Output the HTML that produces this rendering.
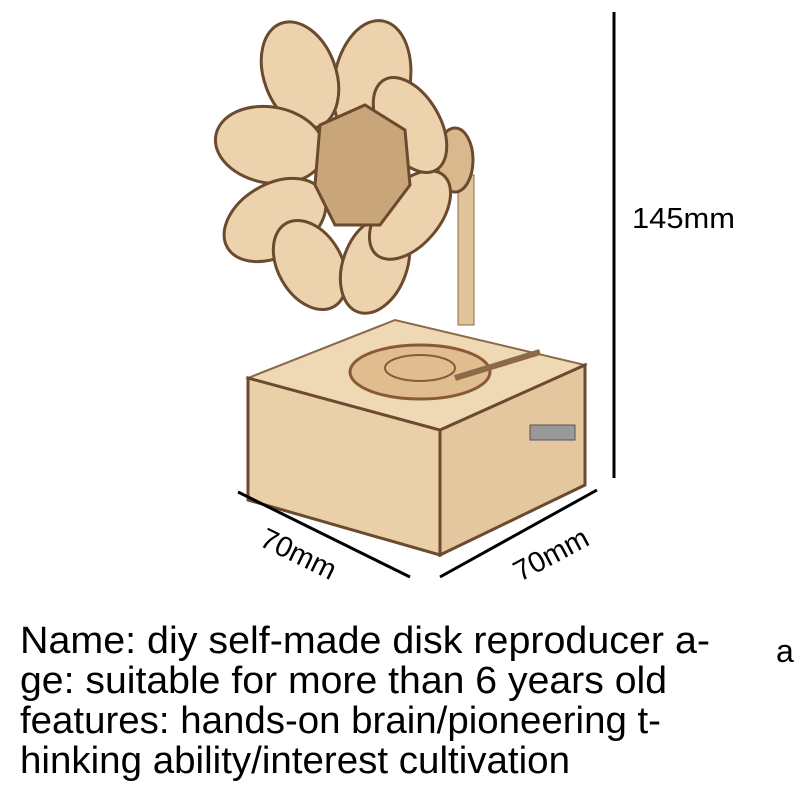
<!DOCTYPE html>
<html><head><style>body{margin:0;background:#fff}svg{display:block}</style></head><body>
<svg width="800" height="800" viewBox="0 0 800 800" xmlns="http://www.w3.org/2000/svg" font-family="Liberation Sans, sans-serif">
<rect width="800" height="800" fill="#fff"/>
<rect x="458" y="175" width="16" height="150" fill="#e2c49c" stroke="#8a6a48"/>
<ellipse cx="455" cy="160" rx="18" ry="32" fill="#d9b88e" stroke="#6b4a2e" stroke-width="3"/>
<g fill="#ecd2ad" stroke="#6b4a2e" stroke-width="3">
<ellipse cx="372" cy="82" rx="38" ry="62" transform="rotate(10 372 82)"/>
<ellipse cx="300" cy="75" rx="36" ry="55" transform="rotate(-20 300 75)"/>
<ellipse cx="270" cy="145" rx="38" ry="55" transform="rotate(-80 270 145)"/>
<ellipse cx="275" cy="220" rx="36" ry="55" transform="rotate(-120 275 220)"/>
<ellipse cx="310" cy="265" rx="32" ry="48" transform="rotate(-30 310 265)"/>
<ellipse cx="375" cy="265" rx="32" ry="50" transform="rotate(20 375 265)"/>
<ellipse cx="410" cy="215" rx="30" ry="52" transform="rotate(40 410 215)"/>
<ellipse cx="410" cy="125" rx="30" ry="52" transform="rotate(-30 410 125)"/>
</g>
<polygon points="320,125 365,105 405,130 410,185 380,225 335,225 315,185" fill="#c9a57a" stroke="#6b4a2e" stroke-width="3"/>
<polygon points="248,378 395,320 585,365 440,430" fill="#efd8b4" stroke="#8a6a48" stroke-width="2"/>
<polygon points="248,378 440,430 440,555 248,500" fill="#ead0a8" stroke="#6b4a2e" stroke-width="3"/>
<polygon points="440,430 585,365 585,485 440,555" fill="#e4c79e" stroke="#6b4a2e" stroke-width="3"/>
<ellipse cx="420" cy="372" rx="70" ry="27" fill="#e0bd8e" stroke="#8a5a38" stroke-width="3"/>
<ellipse cx="420" cy="368" rx="35" ry="13" fill="none" stroke="#8a5a38" stroke-width="2"/>
<line x1="455" y1="378" x2="540" y2="352" stroke="#8a6a48" stroke-width="6"/>
<rect x="530" y="425" width="45" height="15" fill="#999" stroke="#555"/>
<line x1="614" y1="12" x2="614" y2="478" stroke="#000" stroke-width="3"/>
<line x1="238" y1="492" x2="410" y2="577" stroke="#000" stroke-width="3"/>
<line x1="440" y1="577" x2="597" y2="490" stroke="#000" stroke-width="3"/>
<text x="632" y="228" font-size="29" textLength="103" lengthAdjust="spacingAndGlyphs">145mm</text>
<text x="258" y="545" font-size="29" transform="rotate(26 258 545)">70mm</text>
<text x="520" y="582" font-size="29" transform="rotate(-28 520 582)">70mm</text>
<g font-size="38" fill="#000">
<text x="20" y="653" textLength="690" lengthAdjust="spacingAndGlyphs">Name: diy self-made disk reproducer a-</text>
<text x="20" y="693" textLength="647" lengthAdjust="spacingAndGlyphs">ge: suitable for more than 6 years old</text>
<text x="20" y="733" textLength="641" lengthAdjust="spacingAndGlyphs">features: hands-on brain/pioneering t-</text>
<text x="20" y="773" textLength="550" lengthAdjust="spacingAndGlyphs">hinking ability/interest cultivation</text>
<text x="776" y="662" font-size="32">a</text>
</g>
</svg>
</body></html>
